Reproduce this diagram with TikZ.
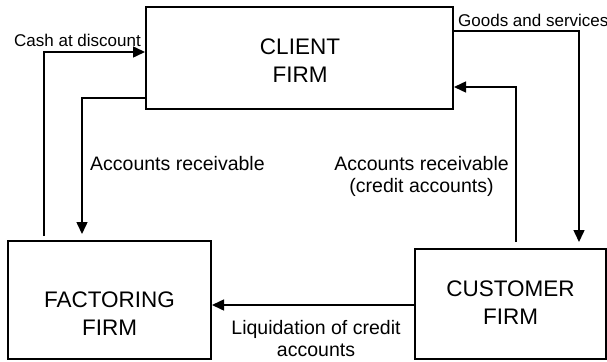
\documentclass[tikz,border=0pt]{standalone}
\usepackage{fontspec}
\setmainfont{Liberation Sans}
\usetikzlibrary{arrows.meta}
\begin{document}
\begin{tikzpicture}[x=1pt,y=-1pt,
  box/.style={draw=black,line width=2pt,minimum width=#1,inner sep=0pt},
  boxtext/.style={align=center,font=\fontsize{22.5}{28}\selectfont},
  lbl/.style={font=\fontsize{17}{22}\selectfont,inner sep=0pt},
  midlbl/.style={font=\fontsize{19.5}{22}\selectfont,inner sep=0pt},
  flow/.style={line width=1.5pt,-{Triangle[length=12pt,width=11pt]}},
  plain/.style={line width=1.5pt}]
\useasboundingbox (0,0) rectangle (607,361);
% boxes
\node[box=307pt,minimum height=102pt] (client) at (299.5,58) {};
\node[box=203pt,minimum height=118pt] (factoring) at (109.5,300) {};
\node[box=191pt,minimum height=110pt] (customer) at (510.5,304) {};
\node[boxtext] (clienttext) at (300,60.5) {CLIENT\\FIRM};
\node[boxtext] (factoringtext) at (109.5,314) {FACTORING\\FIRM};
\node[boxtext] (customertext) at (510.5,302.5) {CUSTOMER\\FIRM};
% connectors
\draw[flow,shorten <=4pt] ([xshift=37pt]factoring.north west) |- ([yshift=6pt]client.west);
\draw[flow,shorten >=6pt] ([yshift=-40pt]client.west) -| ([xshift=75pt]factoring.north west);
\draw[flow,shorten >=6pt] ([yshift=27pt]client.east) -| ([xshift=165pt]customer.north west);
\draw[flow,shorten <=6pt] ([xshift=102pt]customer.north west) |- ([yshift=-29pt]client.east);
\draw[flow] ([yshift=-1pt]customer.west) -- ([yshift=-1pt]customer.west -| factoring.east);
% labels
\node[lbl,anchor=base west] (cashlbl) at (14,47) {Cash at discount};
\node[lbl,anchor=base west] (goodslbl) at (458,27) {Goods and services};
\node[midlbl,anchor=base west] (arlbl) at (90,170) {Accounts receivable};
\node[midlbl,align=center] (creditlbl) at (421.5,176) {Accounts receivable\\(credit accounts)};
\node[midlbl,align=center] (liqlbl) at (316,339) {Liquidation of credit\\accounts};
\end{tikzpicture}
\end{document}
